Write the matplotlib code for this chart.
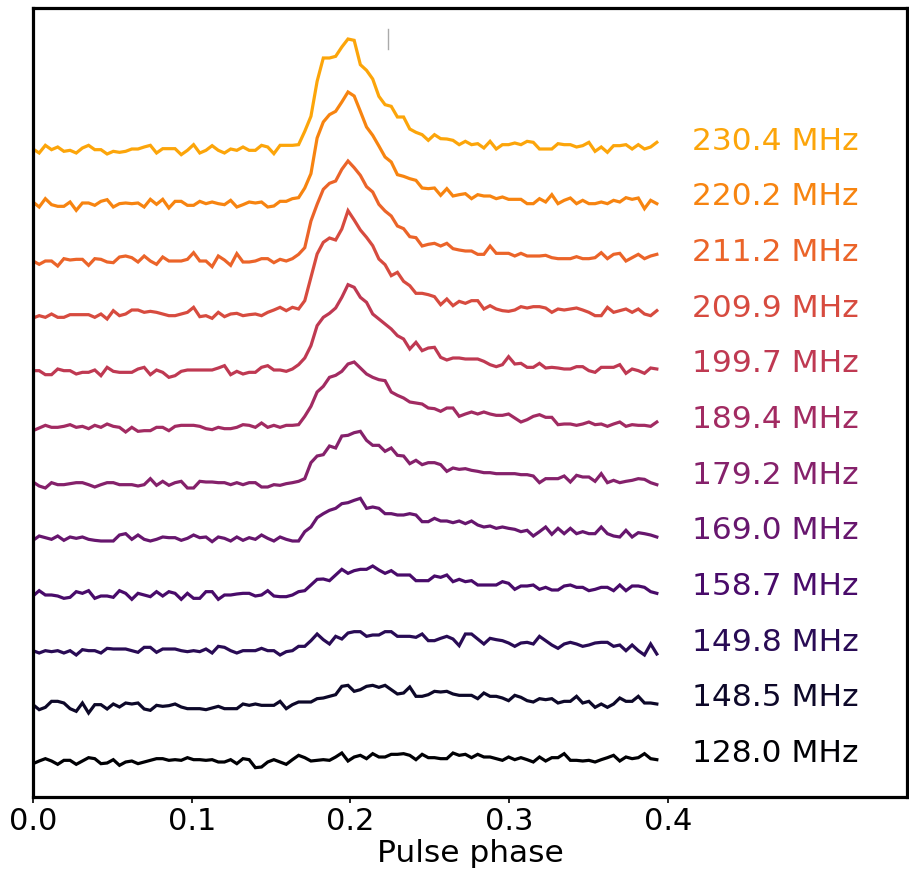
import numpy as np
import matplotlib
matplotlib.use("Agg")
import matplotlib.pyplot as plt

# Frequencies (top to bottom in the figure)
freqs = ["230.4", "220.2", "211.2", "209.9", "199.7", "189.4",
         "179.2", "169.0", "158.7", "149.8", "148.5", "128.0"]

# Pulse profiles (arbitrary flux units), phase bins of 1/256
p230 = [2,-10,13,0,8,-5,-2,-10,5,13, 0,0,-13,-5,-8,-5,2,2,8,13, -10,3,3,3,-15,-2,15,-10,-2,12,
        -2,-10,2,-2,8,-2,-2,13,8,-12, 13,13,13,15,55,100,205,275,275,280, 308,332,328,255,238,212,160,135,130,98,
        98,62,52,45,28,45,33,32,28,15, 25,15,18,5,25,2,15,15,20,15, 25,22,2,2,2,18,15,15,8,12,
        22,-5,8,-8,12,12,15,2,15,2, 8,22]
p220 = [10,-5,20,2,-3,-3,10,-15,7,7, 0,12,17,-5,5,7,5,7,-5,18, 3,18,-8,12,12,0,0,12,5,10,
        5,2,15,-5,2,10,7,10,-5,-2, 12,12,20,23,52,95,202,250,272,282, 310,340,328,282,235,210,178,145,130,92,
        87,80,75,52,50,52,30,50,28,32, 35,20,32,28,28,20,25,18,18,18, 5,5,20,10,32,5,15,22,5,15,
        5,5,10,5,15,10,23,18,22,-10, 15,5]
p211 = [0,-10,0,0,-15,7,3,5,5,-13, 7,5,-3,-5,12,15,10,-3,15,0, -10,12,0,0,0,5,25,0,0,-17,
        15,3,-13,22,-3,-3,0,7,7,-5, 5,0,7,20,40,120,170,215,233,240, 275,300,280,257,223,207,170,150,135,105,
        97,73,70,45,50,53,45,53,37,33, 30,30,20,20,45,23,23,23,15,23, 15,15,15,17,10,7,7,7,13,7,
        7,10,25,7,20,23,0,10,20,7, 15,20]
p209 = [-4,3,-2,8,-2,-2,6,6,6,6, -2,8,-7,18,3,8,20,20,13,16, 13,8,3,3,8,13,28,0,3,-5,
        13,0,8,10,3,6,8,3,13,20, 28,18,28,23,48,118,188,223,236,230, 263,318,290,260,238,213,173,156,123,133,
        106,93,70,70,66,60,36,53,33,46, 40,48,48,23,33,23,18,16,20,30, 26,30,30,26,13,23,20,23,26,20,
        13,3,3,28,13,18,23,13,23,8, 3,18]
p199 = [5,5,-7,-7,10,5,5,-5,0,0, 7,-10,15,3,0,0,0,10,15,-7, 7,0,-15,-10,3,7,7,7,7,7,
        13,20,-7,3,-5,0,0,15,20,7, 7,3,10,23,43,80,140,165,177,193, 225,263,255,225,210,175,160,145,130,110,
        100,70,90,65,73,75,45,37,43,43, 40,40,40,33,23,17,23,47,25,27, 15,15,27,13,15,13,10,10,17,17,
        5,0,15,15,15,23,-3,10,5,-3, 13,10]
p189 = [-8,0,8,2,2,5,10,2,5,-2, 8,2,12,5,2,-12,2,-10,-8,-8, 2,2,-8,5,8,8,8,5,-2,-5,
        2,-2,-2,2,10,8,2,15,2,8, 2,8,8,10,35,65,108,125,152,158, 170,192,198,180,162,152,145,142,108,98,
        90,78,75,72,60,58,50,60,60,35, 42,48,42,48,42,38,38,42,30,18, 25,35,40,32,32,10,12,12,8,12,
        18,10,12,5,12,18,5,10,8,8, 5,18]
p179 = [5,-7,-13,3,-3,-3,0,3,3,-3, -10,-3,3,3,-3,-3,-3,-7,-3,15, -5,7,-5,3,7,-13,-13,7,5,5,
        3,3,-3,3,-3,3,3,-10,-10,-3, -5,0,3,7,15,63,83,87,113,107, 143,145,153,157,130,115,115,97,107,85,
        83,60,70,57,63,63,57,37,47,43, 45,40,37,33,33,30,30,30,30,27, 27,23,3,15,15,15,23,5,25,20,
        20,7,30,3,10,3,7,10,15,13, 3,-3]
p169 = [-3,10,5,0,10,-3,7,3,7,0, -3,-5,-5,-5,13,17,0,13,0,-5, 0,7,5,5,-3,3,13,5,7,-7,
        7,3,-5,7,-3,5,0,13,3,-5, 7,0,-5,-5,23,37,65,77,87,93, 107,110,117,123,93,97,93,77,77,73,
        73,77,73,53,53,63,55,55,50,55, 47,55,43,37,40,33,37,33,30,23, 27,10,23,37,15,33,17,33,17,23,
        17,17,37,17,10,7,27,7,20,17, 13,7]
p158 = [-3,13,0,0,-3,-10,-7,10,5,13, -10,-3,-3,-7,13,5,-13,5,0,-5, 10,-3,10,5,-13,5,-10,-10,10,10,
        -13,0,0,3,5,5,-3,0,13,-3, -5,-5,0,10,13,30,47,48,43,60, 77,65,73,77,77,87,75,65,73,60,
        60,60,43,43,43,57,53,60,40,47, 40,43,30,30,30,30,40,35,17,27, 27,30,17,23,15,15,27,30,23,23,
        13,17,23,23,13,30,13,27,27,23, 10,5]
p149 = [0,-7,0,-3,0,-7,0,-13,3,0, 0,-7,7,5,5,5,0,-5,10,10, -5,5,5,5,0,-3,0,-3,5,-7,
        13,10,0,-7,0,0,0,7,0,0, -13,-3,0,13,13,30,50,33,20,43, 35,53,57,57,43,47,47,57,57,43,
        43,43,40,50,30,30,37,43,35,15, 50,50,35,20,37,33,30,23,13,23, 25,20,43,30,17,7,20,25,20,13,
        17,23,25,25,13,17,0,17,0,-13, 20,-10]
p148 = [5,-10,-3,15,15,10,-7,-15,10,-20, 5,5,-8,7,-2,10,7,10,-8,-12, 3,0,2,7,-2,-7,-7,-7,-10,-5,
        0,-7,-7,-7,7,3,7,3,3,3, 15,-7,5,13,13,13,23,25,30,35, 60,63,45,50,60,63,57,63,50,37,
        40,58,30,30,35,45,43,45,37,33, 33,33,23,40,30,30,25,17,33,27, 17,13,23,20,23,10,15,15,30,10,
        15,-3,7,-3,7,25,15,15,30,10, 10,7]
p128 = [-5,3,10,3,-7,5,5,-7,3,13, 10,-5,-3,7,-10,0,3,-5,0,5, 10,10,5,7,5,13,7,7,5,7,
        0,0,7,-5,10,7,-17,-15,0,7, 0,-7,7,20,13,3,5,7,5,15, 27,3,15,20,10,25,15,15,23,23,
        25,20,7,23,13,13,10,10,27,20, 23,13,23,15,15,10,5,15,7,13, 7,0,15,3,13,13,25,5,5,3,
        5,0,7,13,20,3,15,10,13,25, 10,7]

profiles = [p230, p220, p211, p209, p199, p189, p179, p169, p158, p149, p148, p128]

n_bins = 257          # phase bins per 1.0 of phase (as plotted)
spacing = 167.0       # vertical offset between profiles
marker_phase = 0.2235
marker_y = (2139, 2199)

W, H = 909, 872
fig = plt.figure(figsize=(W / 100, H / 100), dpi=100)
ax = fig.add_axes([33 / W, 1 - 797 / H, (907 - 33) / W, (797 - 8) / H])

n = len(profiles)
colors = plt.cm.inferno(np.linspace(0.0, 0.8, n))

for j, (f, prof) in enumerate(zip(freqs, profiles)):
    k = n - 1 - j            # stacking position from bottom
    col = colors[k]
    prof = np.asarray(prof, dtype=float)
    phase = np.arange(len(prof)) / n_bins
    base = k * spacing
    ax.plot(phase, prof + base, color=col, lw=2.3, solid_joinstyle="miter")
    ax.text(0.4151, base, f"{f} MHz", color=col, fontsize=22.5,
            ha="left", va="baseline")

ax.plot([marker_phase, marker_phase], marker_y, color="#aaaaaa", lw=1.0)

ax.set_xlim(0, 0.5506)
ax.set_ylim(-105, 2262)
ax.set_xticks([0.0, 0.1, 0.2, 0.3, 0.4])
ax.set_xticklabels(["0.0", "0.1", "0.2", "0.3", "0.4"])
ax.set_yticks([])
ax.tick_params(axis="x", labelsize=22, length=4, width=1.2, pad=3)
ax.set_xlabel("Pulse phase", fontsize=22.5, labelpad=2)
for s in ax.spines.values():
    s.set_linewidth(2.3)

fig.savefig("out.png", dpi=100)
